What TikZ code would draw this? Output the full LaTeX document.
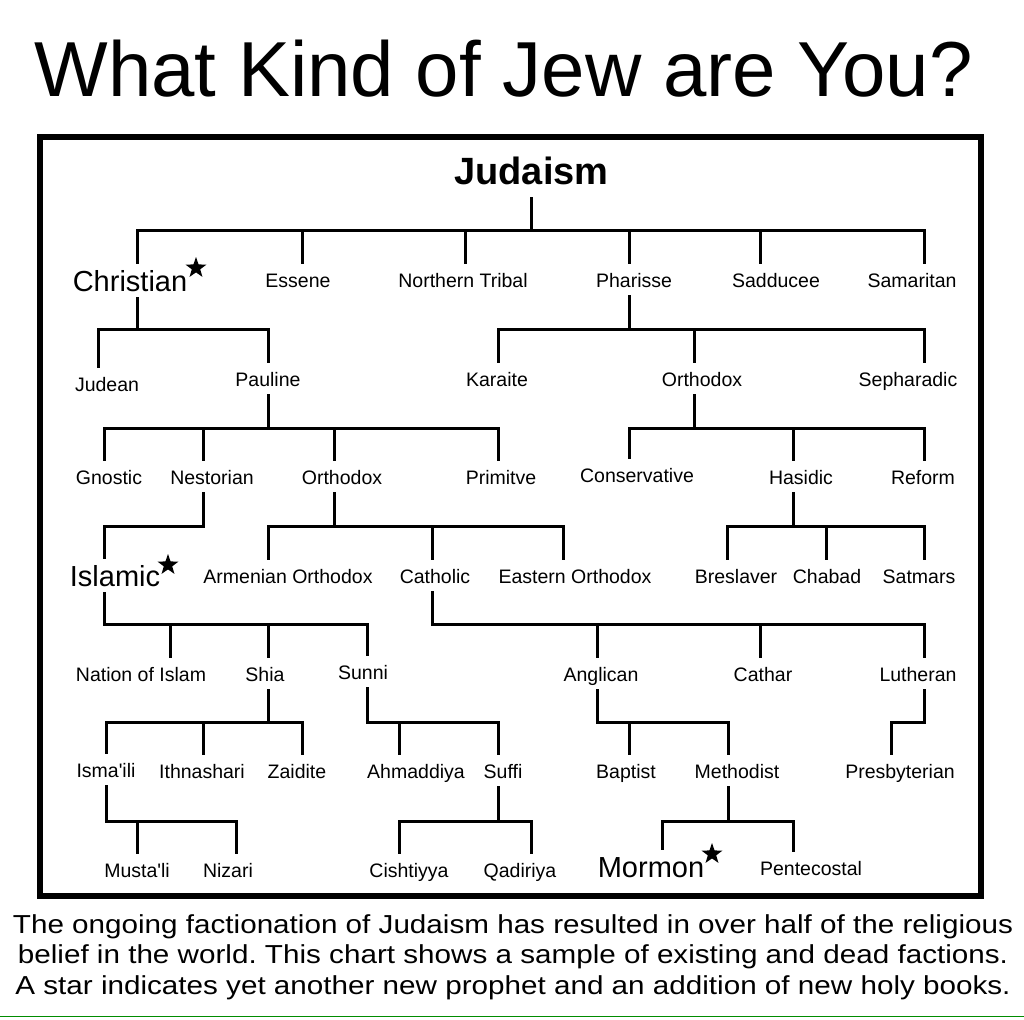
\documentclass[tikz,border=0pt]{standalone}
\usepackage{fontspec}
\setmainfont{Liberation Sans}
\newfontfamily\notafont[FakeStretch=1.14]{Liberation Sans}
\usetikzlibrary{shapes, positioning}
\tikzstyle{faccion} = [font=\fontsize{19.5}{22}\selectfont, anchor=base, text height=15pt, text depth=0pt, inner xsep=0pt, inner ysep=9pt]
\tikzstyle{grande} = [faccion, font=\fontsize{29}{32}\selectfont, text height=21pt, inner ysep=7pt]
\tikzstyle{estrella} = [star, star points=5, star point ratio=2.5, fill=black, inner sep=0pt, minimum size=22pt]
\tikzstyle{rama} = [line width=3pt, line cap=rect]

\begin{document}
\frenchspacing
\begin{tikzpicture}[x=1pt, y=-1pt]
	\useasboundingbox (0,0) rectangle (1024,1019);
	\node[anchor=base, font=\fontsize{78}{80}\selectfont] (titulo) at (503.5,97) {What Kind of Jew are You?};
	\draw[line width=6pt] (40,137.5) rectangle (981,896);
	\node[anchor=base, font=\bfseries\fontsize{38}{40}\selectfont, text height=28pt, text depth=0pt, inner ysep=14pt] (judaismo) at (531.5,184) {Judaism};

	\node[grande] (cristiano) at (130,291) {Christian};
	\node[estrella] (estrella1) at (196,268) {};
	\node[faccion] (esenio) at (298,287) {Essene};
	\node[faccion] (norte) at (463,287) {Northern Tribal};
	\node[faccion] (fariseo) at (634,287) {Pharisse};
	\node[faccion] (saduceo) at (776,287) {Sadducee};
	\node[faccion] (samaritano) at (912,287) {Samaritan};

	\node[faccion] (judeano) at (107,391) {Judean};
	\node[faccion] (paulino) at (268,386) {Pauline};
	\node[faccion] (caraita) at (497,386) {Karaite};
	\node[faccion] (ortodoxoj) at (702,386) {Orthodox};
	\node[faccion] (sefardi) at (908,386) {Sepharadic};

	\node[faccion] (gnostico) at (109,484) {Gnostic};
	\node[faccion] (nestoriano) at (212,484) {Nestorian};
	\node[faccion] (ortodoxoc) at (342,484) {Orthodox};
	\node[faccion] (primitivo) at (501,484) {Primitve};
	\node[faccion] (conservador) at (637,482) {Conservative};
	\node[faccion] (hasidico) at (801,484) {Hasidic};
	\node[faccion] (reforma) at (923,484) {Reform};

	\node[grande] (islamico) at (115,586) {Islamic};
	\node[estrella] (estrella2) at (168,565) {};
	\node[faccion] (armenio) at (288,583) {Armenian Orthodox};
	\node[faccion] (catolico) at (435,583) {Catholic};
	\node[faccion] (oriental) at (575,583) {Eastern Orthodox};
	\node[faccion] (breslov) at (736,583) {Breslaver};
	\node[faccion] (jabad) at (827,583) {Chabad};
	\node[faccion] (satmar) at (919,583) {Satmars};

	\node[faccion] (nacion) at (141,681) {Nation of Islam};
	\node[faccion] (chia) at (265,681) {Shia};
	\node[faccion] (suni) at (363,679) {Sunni};
	\node[faccion] (anglicano) at (601,681) {Anglican};
	\node[faccion] (cataro) at (763,681) {Cathar};
	\node[faccion] (luterano) at (918,681) {Lutheran};

	\node[faccion] (ismaili) at (106,777) {Isma\textquotesingle ili};
	\node[faccion] (duodecimano) at (202,778) {Ithnashari};
	\node[faccion] (zaidi) at (297,778) {Zaidite};
	\node[faccion] (ahmadiya) at (416,778) {Ahmaddiya};
	\node[faccion] (sufi) at (503,778) {Suffi};
	\node[faccion] (bautista) at (626,778) {Baptist};
	\node[faccion] (metodista) at (737,778) {Methodist};
	\node[faccion] (presbiteriano) at (900,778) {Presbyterian};

	\node[faccion] (mustali) at (137,877) {Musta\textquotesingle li};
	\node[faccion] (nizari) at (228,877) {Nizari};
	\node[faccion] (chishti) at (409,877) {Cishtiyya};
	\node[faccion] (qadiri) at (520,877) {Qadiriya};
	\node[grande] (mormon) at (651,877) {Mormon};
	\node[estrella] (estrella3) at (712,854) {};
	\node[faccion] (pentecostal) at (811,875) {Pentecostal};

	\foreach \p/\px/\y/\l/\r in {judaismo/531/230/137/924, cristiano/137/329/98/268, fariseo/629/329/498/924, paulino/268/428/104/498, ortodoxoj/694/428/629/924, nestoriano/203/526/104/203, ortodoxoc/334/526/268/563, hasidico/793/526/727/924, islamico/104/624/104/367, catolico/432/624/432/924, chia/268/722/106/302, suni/367/722/367/498, anglicano/597/722/597/728, luterano/924/722/891/924, ismaili/106/821/106/236, sufi/498/821/399/531, metodista/728/821/662/793}
		\draw[rama] (\p.south -| \px,0) -- (\px,\y) (\l,\y) -- (\r,\y);

	\foreach \y/\x/\n in {230/137/cristiano, 230/302/esenio, 230/465/norte, 230/629/fariseo, 230/760/saduceo, 230/924/samaritano,
		329/98/judeano, 329/268/paulino, 329/498/caraita, 329/694/ortodoxoj, 329/924/sefardi,
		428/104/gnostico, 428/203/nestoriano, 428/334/ortodoxoc, 428/498/primitivo, 428/629/conservador, 428/793/hasidico, 428/924/reforma,
		526/104/islamico, 526/268/armenio, 526/432/catolico, 526/563/oriental, 526/727/breslov, 526/826/jabad, 526/924/satmar,
		624/170/nacion, 624/268/chia, 624/367/suni, 624/597/anglicano, 624/760/cataro, 624/924/luterano,
		722/106/ismaili, 722/203/duodecimano, 722/302/zaidi, 722/399/ahmadiya, 722/498/sufi, 722/629/bautista, 722/728/metodista, 722/891/presbiteriano,
		821/137/mustali, 821/236/nizari, 821/399/chishti, 821/531/qadiri, 821/662/mormon, 821/793/pentecostal}
		\draw[rama] (\x,\y) -- (\n.north -| \x,0);

	\node[anchor=north, inner sep=0pt, align=center, font=\notafont\fontsize{26}{30.5}\selectfont] (nota) at (513,914) {The ongoing factionation of Judaism has resulted in over half of the religious\\belief in the world. This chart shows a sample of existing and dead factions.\\A star indicates yet another new prophet and an addition of new holy books.};
	\draw[green!55!black, line width=1.5pt] (0,1016.5) -- (1024,1016.5);
\end{tikzpicture}
\end{document}
